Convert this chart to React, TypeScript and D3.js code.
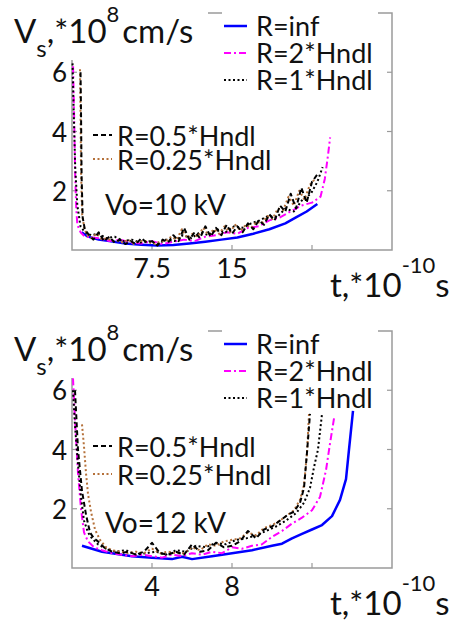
import React from 'react';
import * as d3 from 'd3';

const FONT = "Lato, 'Open Sans', sans-serif";

// Legend labels
const legendLabels = ['R=inf', 'R=2*Hndl', 'R=1*Hndl', 'R=0.5*Hndl', 'R=0.25*Hndl'];
const yTicks = [2, 4, 6];
const yTickLabels = ['2', '4', '6'];

// ---------- Top panel: Vo=10 kV ----------
const topXTicks = [7.5, 15, 22.5];
const topXTickLabels = ['7.5', '15', ''];

const topInfT = [0.9, 1.5, 2.5, 3.5, 5, 6.5, 8, 9.5, 11, 12.5, 14, 15.5, 17, 18.5, 20, 21, 22, 23];
const topInfV = [0.6, 0.45, 0.35, 0.3, 0.22, 0.18, 0.15, 0.17, 0.22, 0.28, 0.35, 0.42, 0.55, 0.7, 0.9, 1.1, 1.3, 1.55];

const topH2T = [0.1, 0.2, 0.3, 0.4, 0.5, 0.8, 1.2, 2.5, 3.5, 4.5, 5.5, 6.5, 7.5, 8.5, 9.5, 10.5, 11.5, 12.5, 13.5, 14.5, 15.5, 16.5, 17.5, 18.5, 19.5, 20.5, 21.5, 22.5, 23.3, 23.7, 24.0, 24.2];
const topH2V = [6.2, 4.5, 2.5, 1.4, 0.85, 0.6, 0.45, 0.4, 0.3, 0.35, 0.25, 0.22, 0.3, 0.2, 0.28, 0.35, 0.3, 0.45, 0.5, 0.6, 0.55, 0.75, 0.8, 1.0, 1.1, 1.3, 1.5, 1.6, 1.8, 2.4, 3.2, 3.8];

const topH1T = [0.05, 0.15, 0.3, 0.5, 0.8, 1.2, 1.8, 2.5, 3.2, 4, 4.8, 5.6, 6.4, 7.2, 8, 8.8, 9.6, 10.4, 11.2, 12, 12.8, 13.6, 14.4, 15.2, 16, 16.8, 17.6, 18.4, 19.2, 20, 20.8, 21.6, 22.4, 23.0, 23.5];
const topH1V = [6.3, 4.8, 2.8, 1.5, 0.8, 0.6, 0.5, 0.55, 0.4, 0.45, 0.3, 0.35, 0.25, 0.3, 0.2, 0.35, 0.3, 0.5, 0.4, 0.6, 0.5, 0.7, 0.6, 0.8, 0.75, 0.9, 1.0, 1.15, 1.1, 1.4, 1.3, 1.7, 1.9, 2.3, 2.8];

const topH05T = [0.8, 0.85, 0.9, 1.0, 1.2, 1.5, 2.0, 2.5, 3.0, 3.5, 4.0, 4.5, 5.0, 5.5, 6.0, 6.5, 7.0, 7.5, 8.0, 8.5, 9.0, 9.5, 10.0, 10.5, 11.0, 11.5, 12.0, 12.5, 13.0, 13.5, 14.0, 14.5, 15.0, 15.5, 16.0, 16.5, 17.0, 17.5, 18.0, 18.5, 19.0, 19.5, 20.0, 20.5, 21.0, 21.5, 22.0, 22.5, 23.0];
const topH05V = [6.0, 4.5, 2.5, 1.1, 0.7, 0.55, 0.35, 0.6, 0.3, 0.45, 0.25, 0.35, 0.2, 0.3, 0.2, 0.4, 0.25, 0.3, 0.15, 0.35, 0.25, 0.5, 0.3, 0.75, 0.35, 0.6, 0.4, 0.8, 0.45, 0.75, 0.5, 0.85, 0.55, 0.8, 0.6, 0.9, 0.7, 1.0, 0.85, 1.2, 1.0, 1.5, 1.3, 1.9, 1.4, 2.1, 1.6, 2.3, 2.55];

const topH025T = [0.75, 0.8, 0.85, 0.95, 1.15, 1.4, 1.8, 2.3, 2.8, 3.3, 3.8, 4.3, 4.8, 5.3, 5.8, 6.3, 6.8, 7.3, 7.8, 8.3, 8.8, 9.3, 9.8, 10.3, 10.8, 11.3, 11.8, 12.3, 12.8, 13.3, 13.8, 14.3, 14.8, 15.3, 15.8, 16.3, 16.8, 17.3, 17.8, 18.3, 18.8, 19.3, 19.8, 20.3, 20.8, 21.3, 21.8, 22.3, 22.8];
const topH025V = [6.1, 4.6, 2.6, 1.2, 0.75, 0.5, 0.4, 0.55, 0.35, 0.4, 0.3, 0.3, 0.25, 0.35, 0.2, 0.3, 0.3, 0.25, 0.2, 0.3, 0.3, 0.45, 0.35, 0.7, 0.4, 0.55, 0.45, 0.75, 0.5, 0.7, 0.55, 0.8, 0.6, 0.85, 0.65, 0.85, 0.75, 0.95, 0.9, 1.15, 1.05, 1.4, 1.35, 1.8, 1.5, 2.0, 1.7, 2.2, 2.4];

// ---------- Bottom panel: Vo=12 kV ----------
const botXTicks = [4, 8, 12];
const botXTickLabels = ['4', '8', ''];

const botInfT = [0.5, 1, 1.5, 2, 3, 4, 5, 5.5, 6, 7, 8, 9, 10, 10.5, 11, 11.5, 12, 12.5, 13, 13.4, 13.7, 13.85, 14.05];
const botInfV = [0.75, 0.65, 0.55, 0.5, 0.4, 0.35, 0.3, 0.38, 0.3, 0.4, 0.5, 0.6, 0.75, 0.82, 1.0, 1.15, 1.3, 1.45, 1.75, 2.3, 3.0, 4.0, 5.3];

const botH2T = [0.05, 0.15, 0.3, 0.45, 0.6, 0.8, 1.1, 1.5, 2, 2.5, 3, 3.5, 4, 4.5, 5, 5.5, 6, 6.5, 7, 7.5, 8, 8.5, 9, 9.5, 10, 10.5, 11, 11.5, 12, 12.4, 12.7, 12.9, 13.1];
const botH2V = [6.4, 5.0, 3.2, 2.0, 1.2, 0.9, 0.7, 0.6, 0.5, 0.45, 0.4, 0.45, 0.4, 0.35, 0.45, 0.4, 0.5, 0.45, 0.55, 0.5, 0.7, 0.65, 0.75, 0.8, 1.05, 1.25, 1.5, 1.7, 1.95, 2.4, 3.3, 4.2, 5.05];

const botH1T = [0.05, 0.15, 0.3, 0.45, 0.6, 0.8, 1.0, 1.3, 1.7, 2.2, 2.7, 3.2, 3.7, 4.2, 4.7, 5.2, 5.7, 6.2, 6.7, 7.2, 7.7, 8.2, 8.7, 9.2, 9.7, 10.2, 10.7, 11.2, 11.6, 11.9, 12.1, 12.3, 12.5];
const botH1V = [6.0, 4.8, 3.5, 2.4, 1.6, 1.2, 1.0, 0.8, 0.65, 0.55, 0.6, 0.45, 0.5, 0.55, 0.45, 0.6, 0.55, 0.75, 0.7, 0.85, 0.8, 0.95, 1.0, 1.1, 1.25, 1.4, 1.6, 1.85, 2.2, 2.7, 3.4, 4.0, 5.2];

const botH05T = [0.15, 0.3, 0.5, 0.7, 0.9, 1.1, 1.3, 1.6, 2.0, 2.4, 2.8, 3.2, 3.6, 4.0, 4.4, 4.8, 5.2, 5.6, 6.0, 6.4, 6.8, 7.2, 7.6, 8.0, 8.4, 8.8, 9.2, 9.6, 10.0, 10.4, 10.8, 11.1, 11.4, 11.6, 11.75, 11.9];
const botH05V = [6.0, 4.0, 2.6, 1.8, 1.2, 1.0, 0.9, 0.7, 0.55, 0.5, 0.55, 0.45, 0.55, 0.85, 0.5, 0.45, 0.55, 0.45, 0.8, 0.55, 0.6, 0.85, 0.7, 0.75, 0.9, 1.25, 1.0, 1.3, 1.4, 1.6, 1.8, 1.9, 2.2, 2.7, 3.9, 5.2];

const botH025T = [0.5, 0.6, 0.7, 0.8, 0.95, 1.15, 1.4, 1.7, 2.0, 2.4, 2.8, 3.2, 3.6, 4.0, 4.4, 4.8, 5.2, 5.6, 6.0, 6.4, 6.8, 7.2, 7.6, 8.0, 8.4, 8.8, 9.2, 9.6, 10.0, 10.4, 10.8, 11.1, 11.4, 11.6, 11.75, 11.85];
const botH025V = [4.85, 4.1, 3.2, 2.5, 1.9, 1.3, 0.95, 0.7, 0.6, 0.55, 0.5, 0.55, 0.5, 0.65, 0.5, 0.55, 0.5, 0.5, 0.7, 0.6, 0.8, 0.75, 0.9, 0.95, 1.0, 1.2, 1.1, 1.35, 1.45, 1.6, 1.8, 1.95, 2.3, 2.8, 3.9, 5.2];

type Style = { color: string; dash?: string; width: number };
const styles: Style[] = [
  { color: '#0000ff', width: 2.5 },
  { color: '#ff00ff', dash: '7,3,2,3', width: 2 },
  { color: '#000000', dash: '2,2.5', width: 2 },
  { color: '#000000', dash: '5,3', width: 2 },
  { color: '#b5713a', dash: '2,2.5', width: 2 },
];
const drawOrder = [0, 1, 2, 4, 3];

type PanelProps = {
  oy: number;
  xMax: number;
  xTicks: number[];
  xTickLabels: string[];
  ts: number[][];
  vs: number[][];
  voltage: string;
  leg2: number[];
};

function Panel({ oy, xMax, xTicks, xTickLabels, ts, vs, voltage, leg2 }: PanelProps) {
  const L = 72, R = 392, T = oy + 13, B = oy + 250;
  const x = d3.scaleLinear().domain([0, xMax]).range([L, R]);
  const y = d3.scaleLinear().domain([0, 8]).range([B, T]);
  const line = d3.line<[number, number]>().x(d => x(d[0])).y(d => y(d[1]));
  const axisColor = '#9a9a9a';
  const tl = 5;
  return (
    <g>
      {/* box */}
      <rect x={L} y={T} width={R - L} height={B - T} fill="none" stroke={axisColor} strokeWidth={1.5} />
      {yTicks.map(t => (
        <g key={'y' + t}>
          <line x1={L} x2={L + tl} y1={y(t)} y2={y(t)} stroke={axisColor} strokeWidth={1.2} />
          <line x1={R} x2={R - tl} y1={y(t)} y2={y(t)} stroke={axisColor} strokeWidth={1.2} />
        </g>
      ))}
      {xTicks.map(t => (
        <g key={'x' + t}>
          <line x1={x(t)} x2={x(t)} y1={B} y2={B - tl} stroke={axisColor} strokeWidth={1.2} />
        </g>
      ))}
      {/* white backgrounds of title and legend */}
      <rect x={0} y={oy} width={208} height={60} fill="#fff" />
      <rect x={222} y={oy + 8} width={156} height={84} fill="#fff" />
      {/* curves */}
      {drawOrder.map(i => {
        const pts = ts[i].map((t, k) => [t, vs[i][k]] as [number, number]);
        const s = styles[i];
        return (
          <path key={'c' + i} d={line(pts) || ''} fill="none" stroke={s.color} strokeWidth={s.width}
            strokeDasharray={s.dash} strokeLinejoin="round" />
        );
      })}
      {/* tick labels */}
      {yTicks.map((t, k) => (
        <text key={'yl' + t} x={67} y={y(t) + 10} textAnchor="end" fontFamily={FONT} fontSize={26} fill="#111">{yTickLabels[k]}</text>
      ))}
      {xTicks.map((t, k) => (
        <text key={'xl' + t} x={x(t)} y={B + 28} textAnchor="middle" fontFamily={FONT} fontSize={27} fill="#111">{xTickLabels[k]}</text>
      ))}
      {/* y title */}
      <text x={14} y={oy + 43} fontFamily={FONT} fontSize={33} fill="#111">
        <tspan>V</tspan>
        <tspan fontSize={24} dy={14}>s</tspan>
        <tspan dy={-14}>,*10</tspan>
        <tspan fontSize={22} dy={-21}>8</tspan>
        <tspan dy={21} dx={3}>cm/s</tspan>
      </text>
      {/* x title */}
      <text x={330} y={B + 47} fontFamily={FONT} fontSize={33} fill="#111">
        <tspan>t,*10</tspan>
        <tspan fontSize={22} dy={-24}>-10</tspan>
        <tspan dy={24}>s</tspan>
      </text>
      {/* legend 1 */}
      {[0, 1, 2].map(i => {
        const by = oy + 36 + i * 27;
        const s = styles[i];
        return (
          <g key={'lg' + i}>
            <line x1={224} x2={247} y1={by - 10} y2={by - 10} stroke={s.color} strokeWidth={s.width} strokeDasharray={s.dash} />
            <text x={256} y={by} fontFamily={FONT} fontSize={27} fill="#111">{legendLabels[i]}</text>
          </g>
        );
      })}
      {/* legend 2 */}
      {[3, 4].map((i, k) => {
        const by = leg2[k];
        const s = styles[i];
        return (
          <g key={'lg' + i}>
            <line x1={93} x2={112} y1={by - 11} y2={by - 11} stroke={s.color} strokeWidth={s.width} strokeDasharray={s.dash} />
            <text x={117} y={by} fontFamily={FONT} fontSize={27} fill="#111">{legendLabels[i]}</text>
          </g>
        );
      })}
      <text x={105} y={oy + 215} fontFamily={FONT} fontSize={28} fill="#111">{voltage}</text>
    </g>
  );
}

export default function App() {
  return (
    <svg width={459} height={623} style={{ position: 'absolute', left: 0, top: 0, background: '#fff' }}>
      <rect x={0} y={0} width={459} height={623} fill="#fff" />
      <Panel oy={0} xMax={30} xTicks={topXTicks} xTickLabels={topXTickLabels}
        ts={[topInfT, topH2T, topH1T, topH05T, topH025T]}
        vs={[topInfV, topH2V, topH1V, topH05V, topH025V]}
        voltage="Vo=10 kV" leg2={[146, 170]} />
      <Panel oy={318} xMax={16} xTicks={botXTicks} xTickLabels={botXTickLabels}
        ts={[botInfT, botH2T, botH1T, botH05T, botH025T]}
        vs={[botInfV, botH2V, botH1V, botH05V, botH025V]}
        voltage="Vo=12 kV" leg2={[457, 485]} />
    </svg>
  );
}
